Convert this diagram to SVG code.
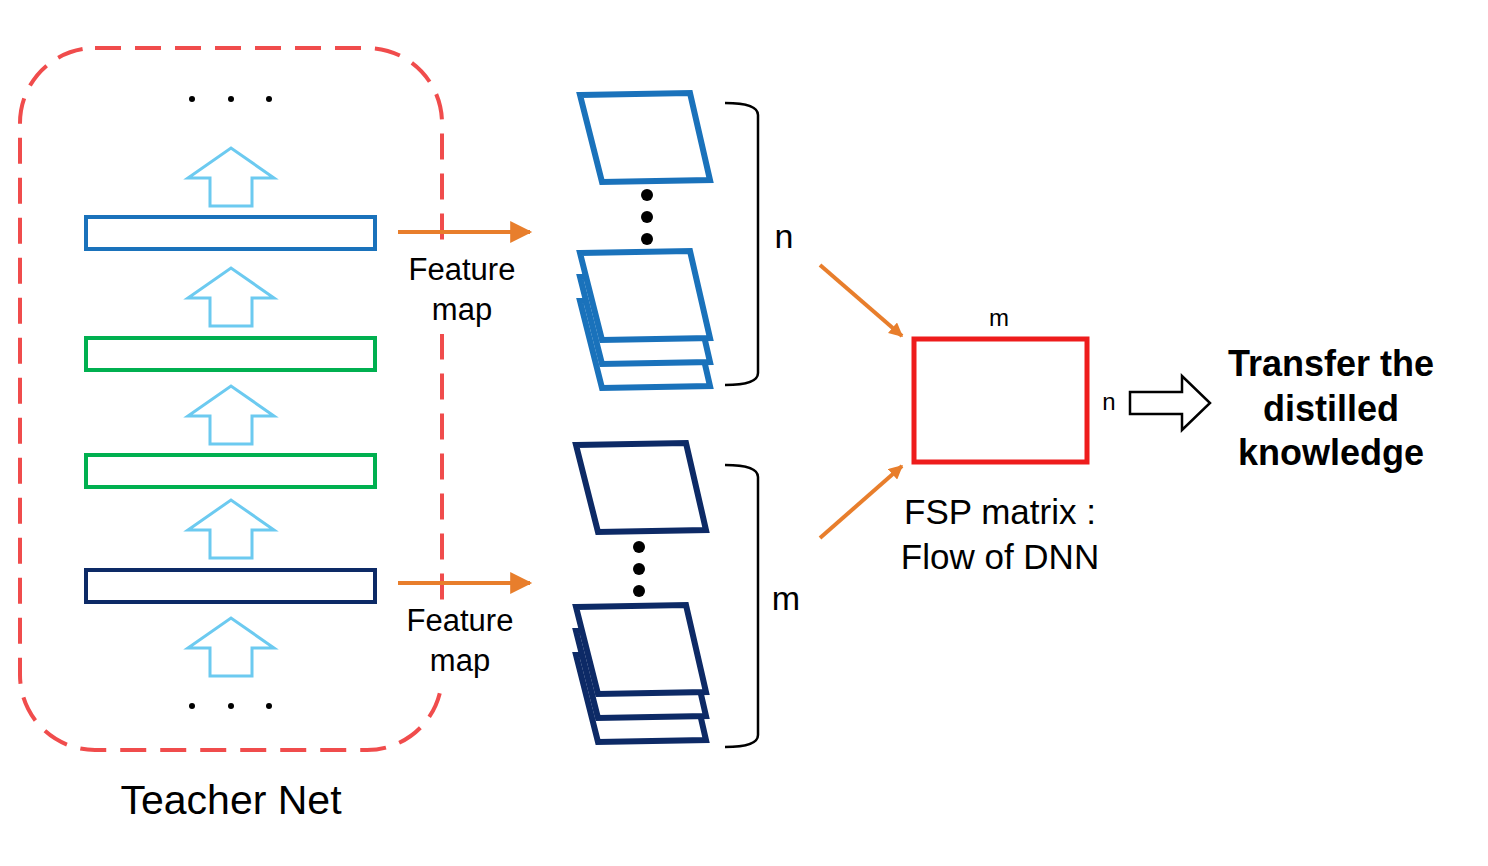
<svg xmlns="http://www.w3.org/2000/svg" width="1488" height="866" viewBox="0 0 1488 866">
<style>
text{font-family:"Liberation Sans",Arial,sans-serif;fill:#000}
.up{fill:#fff;stroke:#6ccaf0;stroke-width:3}
.bar{fill:#fff;stroke-width:4}
.fb{fill:#fff;stroke:#1a72bb;stroke-width:6;stroke-linejoin:miter}
.fn{fill:#fff;stroke:#0d2a66;stroke-width:6;stroke-linejoin:miter}
.or{stroke:#e87e2c;stroke-width:4;fill:none}
.br{fill:none;stroke:#000;stroke-width:2.5}
</style>
<defs>
<marker id="ahB" viewBox="0 0 10 10" refX="9" refY="5" markerWidth="24" markerHeight="22" orient="auto" markerUnits="userSpaceOnUse"><path d="M0,0L10,5L0,10z" fill="#e87e2c"/></marker>
<marker id="ahS" viewBox="0 0 10 10" refX="9" refY="5" markerWidth="14" markerHeight="14" orient="auto" markerUnits="userSpaceOnUse"><path d="M0,0L10,5L0,10z" fill="#e87e2c"/></marker>
<path id="upA" d="M-21,58V30H-43L0,0L43,30H21V58Z"/>
<path id="pg" d="M0,0L110,-2L130,85L22,87Z"/>
</defs>
<g id="teacher">
<rect x="20" y="48" width="422" height="702" rx="75" fill="none" stroke="#f04c4c" stroke-width="4" stroke-dasharray="26,14"/>
<text x="231" y="814" font-size="41" text-anchor="middle">Teacher Net</text>
<g fill="#000"><circle cx="192" cy="99" r="3"/><circle cx="231" cy="99" r="3"/><circle cx="269" cy="99" r="3"/>
<circle cx="192" cy="706" r="3"/><circle cx="231" cy="706" r="3"/><circle cx="269" cy="706" r="3"/></g>
<use href="#upA" class="up" x="231" y="148"/>
<use href="#upA" class="up" x="231" y="268"/>
<use href="#upA" class="up" x="231" y="386"/>
<use href="#upA" class="up" x="231" y="500"/>
<use href="#upA" class="up" x="231" y="618"/>
<rect class="bar" x="86" y="217" width="289" height="32" stroke="#1a72bb"/>
<rect class="bar" x="86" y="338" width="289" height="32" stroke="#00b050"/>
<rect class="bar" x="86" y="455" width="289" height="32" stroke="#00b050"/>
<rect class="bar" x="86" y="570" width="289" height="32" stroke="#0d2a66"/>
</g>
<g id="fmaps1">
<use href="#pg" class="fb" x="580" y="95"/>
<g fill="#000"><circle cx="647" cy="195" r="6"/><circle cx="647" cy="217" r="6"/><circle cx="647" cy="239" r="6"/></g>
<use href="#pg" class="fb" x="580" y="301"/>
<use href="#pg" class="fb" x="580" y="277"/>
<use href="#pg" class="fb" x="580" y="253"/>
<path class="br" d="M725,103Q758,103 758,115V373Q758,385 725,385"/>
<text x="784" y="248" font-size="34" text-anchor="middle">n</text>
</g>
<g id="fmaps2">
<use href="#pg" class="fn" x="576" y="445"/>
<g fill="#000"><circle cx="639" cy="547" r="6"/><circle cx="639" cy="569" r="6"/><circle cx="639" cy="591" r="6"/></g>
<use href="#pg" class="fn" x="576" y="655"/>
<use href="#pg" class="fn" x="576" y="631"/>
<use href="#pg" class="fn" x="576" y="607"/>
<path class="br" d="M725,465Q758,465 758,477V735Q758,747 725,747"/>
<text x="786" y="610" font-size="34" text-anchor="middle">m</text>
</g>
<g id="fsp">
<rect x="914" y="339" width="173" height="123" fill="#fff" stroke="#ee1c1c" stroke-width="5"/>
<text x="999" y="326" font-size="24" text-anchor="middle">m</text>
<text x="1109" y="410" font-size="24" text-anchor="middle">n</text>
<text x="1000" y="524" font-size="35" text-anchor="middle">FSP matrix :</text>
<text x="1000" y="569" font-size="35" text-anchor="middle">Flow of DNN</text>
</g>
<g id="transfer">
<path d="M1130,392H1182V376L1210,403L1182,430V414H1130Z" fill="#fff" stroke="#000" stroke-width="2.5"/>
<g font-weight="bold" font-size="36" text-anchor="middle"><text x="1331" y="376">Transfer the</text><text x="1331" y="421">distilled</text><text x="1331" y="465">knowledge</text></g>
</g>
<g id="connectors">
<line class="or" x1="398" y1="232" x2="530" y2="232" marker-end="url(#ahB)"/>
<line class="or" x1="398" y1="583" x2="530" y2="583" marker-end="url(#ahB)"/>
<line class="or" x1="820" y1="265" x2="902" y2="336" stroke-width="3" marker-end="url(#ahS)"/>
<line class="or" x1="820" y1="538" x2="902" y2="466" stroke-width="3" marker-end="url(#ahS)"/>
<rect x="404" y="250" width="116" height="84" fill="#fff"/>
<rect x="402" y="601" width="116" height="82" fill="#fff"/>
<text x="462" y="280" font-size="31" text-anchor="middle">Feature</text>
<text x="462" y="320" font-size="31" text-anchor="middle">map</text>
<text x="460" y="631" font-size="31" text-anchor="middle">Feature</text>
<text x="460" y="671" font-size="31" text-anchor="middle">map</text>
</g>
</svg>
